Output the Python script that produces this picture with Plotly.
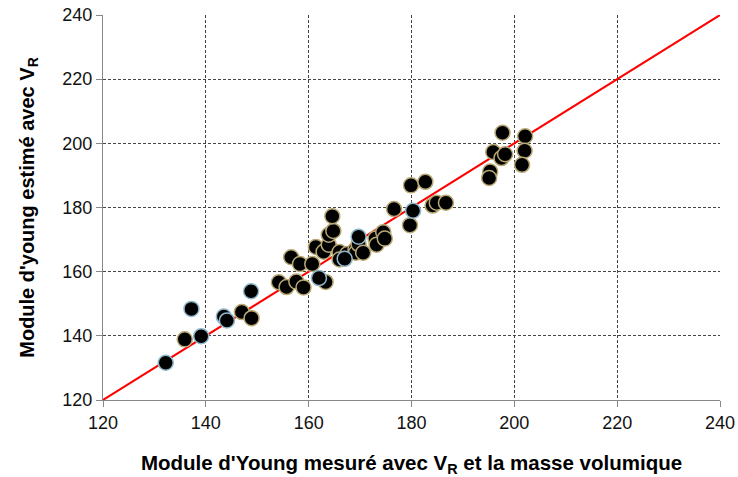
import plotly.graph_objects as go

# Measured (x) vs estimated (y) Young's modulus, points with tan edge
x_tan = [135.9, 147.0, 148.9, 154.2, 155.7, 156.6, 157.6, 158.3, 159.0, 160.7,
         161.4, 162.9, 163.3, 163.9, 163.9, 164.8, 164.6, 166.0, 166.0, 167.5,
         169.1, 169.2, 169.7, 170.6, 173.0, 173.2, 174.5, 174.8, 176.6, 179.7,
         179.9, 182.7, 184.1, 184.9, 186.7, 195.3, 195.1, 195.9, 197.5, 198.2,
         197.7, 202.1, 202.0, 201.5]
y_tan = [138.9, 147.4, 145.5, 156.7, 155.2, 164.5, 156.9, 162.4, 155.1, 162.4,
         167.7, 166.2, 156.8, 168.4, 171.5, 172.7, 177.3, 166.1, 163.8, 165.5,
         166.9, 165.9, 168.6, 165.9, 170.3, 168.4, 172.3, 170.3, 179.5, 174.5,
         186.9, 188.0, 180.6, 181.5, 181.5, 191.2, 189.2, 197.3, 195.4, 196.6,
         203.3, 202.2, 197.7, 193.3]

# Points with light-blue edge
x_blue = [132.2, 137.2, 139.1, 143.5, 144.1, 148.8, 162.0, 167.0, 169.7, 180.3]
y_blue = [131.6, 148.4, 139.9, 146.0, 144.8, 153.9, 158.0, 164.0, 170.9, 179.0]

# 1:1 line
line_x = [120, 240]
line_y = [120, 240]

tick_vals = [120, 140, 160, 180, 200, 220, 240]

FONT = "Liberation Sans, Arial, sans-serif"

fig = go.Figure()
fig.add_trace(go.Scatter(x=line_x, y=line_y, mode="lines",
                         line=dict(color="#ff0000", width=2), hoverinfo="skip"))
fig.add_trace(go.Scatter(x=x_tan, y=y_tan, mode="markers",
                         marker=dict(size=15, color="black",
                                     line=dict(color="#b8a874", width=1.5))))
fig.add_trace(go.Scatter(x=x_blue, y=y_blue, mode="markers",
                         marker=dict(size=15, color="black",
                                     line=dict(color="#8fb8cc", width=1.5))))

axis_common = dict(
    range=[120, 240], tickvals=tick_vals, showgrid=True, gridcolor="#444444",
    griddash="3px,2px", gridwidth=1, showline=True, linecolor="#888888",
    linewidth=1, ticks="outside", ticklen=6, tickcolor="#888888",
    zeroline=False, automargin=False,
    tickfont=dict(size=18, color="#111111", family=FONT),
)

fig.update_layout(
    width=738, height=477,
    margin=dict(l=103, r=18, t=15, b=77),
    paper_bgcolor="white", plot_bgcolor="white",
    showlegend=False,
    font=dict(family=FONT, color="black"),
    xaxis=dict(axis_common,
               title=dict(text="<b>Module d'Young mesuré avec V<sub>R</sub> et la masse volumique</b>",
                          font=dict(size=20.5), standoff=24)),
    yaxis=dict(axis_common,
               title=dict(text="<b>Module d'young estimé avec V<sub>R</sub></b>",
                          font=dict(size=20), standoff=22)),
)

fig.write_html("out.html", config={"displayModeBar": False},
               post_script="document.body.style.margin='0px';document.body.style.overflow='hidden';")
